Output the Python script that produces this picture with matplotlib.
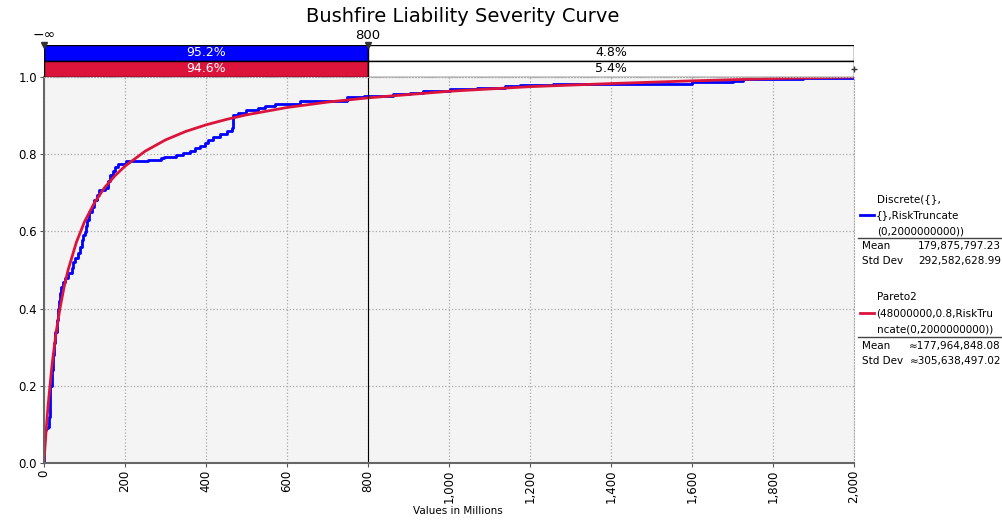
import numpy as np
import matplotlib.pyplot as plt
from matplotlib.ticker import FuncFormatter, MultipleLocator

# Discrete fit, cumulative step curve (values in millions)
disc_x = [0, 0, 5, 10, 12, 14, 16, 19, 22, 25, 28, 31, 34, 37, 40, 43, 46, 52, 60,
          68, 72, 76, 84, 90, 93, 97, 101, 104, 107, 111, 118, 123, 130, 136, 150,
          157, 163, 170, 175, 183, 202, 258, 290, 296, 327, 344, 360, 373, 385,
          397, 406, 418, 435, 451, 465, 467, 480, 500, 529, 546, 570, 632, 747,
          790, 862, 904, 937, 1002, 1068, 1138, 1175, 1257, 1600, 1700, 1726,
          1874, 2000]
disc_p = [0, 0.085, 0.09, 0.094, 0.12, 0.16, 0.20, 0.24, 0.28, 0.31, 0.34, 0.37,
          0.40, 0.42, 0.44, 0.457, 0.47, 0.478, 0.491, 0.504, 0.52, 0.53, 0.543,
          0.56, 0.578, 0.59, 0.599, 0.615, 0.63, 0.651, 0.664, 0.681, 0.694,
          0.707, 0.713, 0.73, 0.746, 0.757, 0.766, 0.775, 0.782, 0.784, 0.79,
          0.794, 0.798, 0.802, 0.808, 0.815, 0.821, 0.828, 0.837, 0.844, 0.852,
          0.861, 0.867, 0.902, 0.908, 0.914, 0.92, 0.926, 0.929, 0.938, 0.948,
          0.952, 0.955, 0.959, 0.963, 0.968, 0.971, 0.977, 0.98, 0.982, 0.986,
          0.99, 0.994, 0.997, 1.0]

# Pareto2 fit, smooth curve
par_x = [0, 1, 2, 5, 10, 20, 30, 40, 50, 60, 80, 100, 125, 150, 175, 200, 250,
         300, 350, 400, 450, 500, 600, 700, 800, 1000, 1200, 1400, 1600, 1800, 2000]
par_p = [0, 0.017, 0.034, 0.080, 0.148, 0.256, 0.339, 0.404, 0.458, 0.502, 0.572,
         0.625, 0.675, 0.714, 0.744, 0.769, 0.808, 0.837, 0.859, 0.876, 0.890,
         0.902, 0.921, 0.935, 0.946, 0.963, 0.975, 0.983, 0.990, 0.996, 1.0]

split_val = 800
disc_pct = [95.2, 4.8]
par_pct = [94.6, 5.4]

blue = '#0000FF'
red = '#DC143C'

W, H = 1003, 521
fig = plt.figure(figsize=(W / 100, H / 100), dpi=100)


def fx(px):
    return px / W


def fy(py):
    return 1 - py / H


# main axes
L, R, T, B = 44, 854, 77, 463
ax = fig.add_axes([fx(L), fy(B), fx(R - L), fy(T) - fy(B)])
ax.set_facecolor('#F4F4F4')
ax.step(disc_x, disc_p, where='post', color=blue, lw=2)
ax.plot(par_x, par_p, color=red, lw=2)
ax.axvline(split_val, color='black', lw=0.8)
ax.set_xlim(0, 2000)
ax.set_ylim(0, 1.0)
ax.xaxis.set_major_locator(MultipleLocator(200))
ax.yaxis.set_major_locator(MultipleLocator(0.2))
ax.xaxis.set_major_formatter(FuncFormatter(lambda v, p: f'{int(v):,}'))
ax.yaxis.set_major_formatter(FuncFormatter(lambda v, p: f'{v:.1f}'))
ax.tick_params(axis='x', rotation=90, labelsize=8.5, length=3, color='#555555', pad=2)
ax.tick_params(axis='y', labelsize=8.5, length=3, color='#555555', pad=2)
ax.grid(True, color='#AAAAAA', ls=':', lw=0.9)
for s in ['top', 'right']:
    ax.spines[s].set_color('#AAAAAA')
    ax.spines[s].set_linestyle(':')
for s in ['left', 'bottom']:
    ax.spines[s].set_color('#666666')
    ax.spines[s].set_linewidth(1.5)
fig.text(fx(458), fy(511), 'Values in Millions', ha='center', va='center', fontsize=7.5)

# top percentage bars
tb = fig.add_axes([fx(L), fy(T), fx(R - L), fy(45) - fy(T)])
tb.set_xlim(0, 2000)
tb.set_ylim(0, 2)
tb.barh(1.5, split_val, left=0, height=1, color=blue, edgecolor='black', lw=1)
tb.barh(1.5, 2000 - split_val, left=split_val, height=1, color='white', edgecolor='black', lw=1)
tb.barh(0.5, split_val, left=0, height=1, color=red, edgecolor='black', lw=1)
tb.barh(0.5, 2000 - split_val, left=split_val, height=1, color='white', edgecolor='black', lw=1)
tb.text(split_val / 2, 1.5, f'{disc_pct[0]}%', color='white', ha='center', va='center', fontsize=9)
tb.text((split_val + 2000) / 2, 1.5, f'{disc_pct[1]}%', color='black', ha='center', va='center', fontsize=9)
tb.text(split_val / 2, 0.5, f'{par_pct[0]}%', color='white', ha='center', va='center', fontsize=9)
tb.text((split_val + 2000) / 2, 0.5, f'{par_pct[1]}%', color='black', ha='center', va='center', fontsize=9)
tb.plot([0, split_val], [2.0, 2.0], ls='none', marker='v', color='#333333', ms=5, clip_on=False)
tb.plot([2000], [0.5], ls='none', marker='+', color='#333333', ms=5, clip_on=False)
tb.text(0, 2.6, '\u2212\u221e', ha='center', va='center', fontsize=10)
tb.text(split_val, 2.6, str(split_val), ha='center', va='center', fontsize=9.5)
tb.axis('off')

fig.text(fx(463), fy(17), 'Bushfire Liability Severity Curve', ha='center', va='center', fontsize=14)

# legend panel on the right
fs = 7.5
fig.lines.append(plt.Line2D([fx(860), fx(874)], [fy(215), fy(215)], color=blue, lw=2, transform=fig.transFigure))
for i, s in enumerate(['Discrete({},', '{},RiskTruncate', '(0,2000000000))']):
    fig.text(fx(877) if i != 1 else fx(876), fy(199 + 16 * i), s, ha='left', va='center', fontsize=fs)
fig.lines.append(plt.Line2D([fx(858), fx(1003)], [fy(238), fy(238)], color='#444444', lw=1, transform=fig.transFigure))
fig.text(fx(862), fy(246), 'Mean', ha='left', va='center', fontsize=fs)
fig.text(fx(1001), fy(246), '179,875,797.23', ha='right', va='center', fontsize=fs)
fig.text(fx(862), fy(261), 'Std Dev', ha='left', va='center', fontsize=fs)
fig.text(fx(1001), fy(261), '292,582,628.99', ha='right', va='center', fontsize=fs)

fig.lines.append(plt.Line2D([fx(860), fx(874)], [fy(313), fy(313)], color=red, lw=2, transform=fig.transFigure))
for i, s in enumerate(['Pareto2', '(48000000,0.8,RiskTru', 'ncate(0,2000000000))']):
    fig.text(fx(877) if i != 1 else fx(876), fy(297 + 16 * i), s, ha='left', va='center', fontsize=fs)
fig.lines.append(plt.Line2D([fx(858), fx(1003)], [fy(337), fy(337)], color='#444444', lw=1, transform=fig.transFigure))
fig.text(fx(862), fy(346), 'Mean', ha='left', va='center', fontsize=fs)
fig.text(fx(1001), fy(346), '\u2248177,964,848.08', ha='right', va='center', fontsize=fs)
fig.text(fx(862), fy(361), 'Std Dev', ha='left', va='center', fontsize=fs)
fig.text(fx(1001), fy(361), '\u2248305,638,497.02', ha='right', va='center', fontsize=fs)

fig.savefig('out.png', dpi=100)
